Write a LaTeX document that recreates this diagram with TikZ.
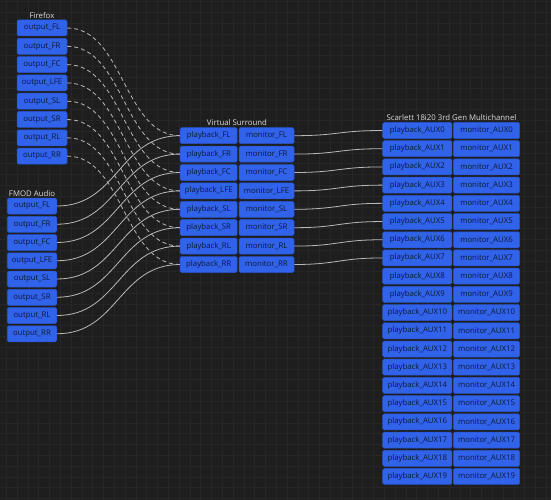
\documentclass[tikz,border=0pt]{standalone}
\usepackage{fontspec}
\setmainfont{Open Sans}
\definecolor{bgcol}{HTML}{1E1E1E}
\definecolor{gridcol}{HTML}{262626}
\definecolor{portfill}{HTML}{3063EA}
\definecolor{portedge}{HTML}{2853C8}
\definecolor{porttext}{HTML}{101838}
\definecolor{labeltext}{HTML}{DCDCDC}
\definecolor{wirecol}{HTML}{B8B8B8}
\begin{document}
\begin{tikzpicture}[x=1pt,y=-1pt,
  port/.style={draw=portedge, line width=0.5pt, fill=portfill, rounded corners=1.5pt,
    minimum height=16pt, inner sep=0pt, text=porttext, font=\fontsize{7.8}{8}\selectfont},
  grp/.style={text=labeltext, font=\fontsize{7.8}{8}\selectfont, anchor=south, inner sep=0pt},
  wire/.style={draw=wirecol, line width=0.8pt},
  dwire/.style={wire, dash pattern=on 4pt off 3pt}]
\useasboundingbox (0,0) rectangle (551,500);
\fill[bgcol] (0,0) rectangle (551,500);
\foreach \i in {0,...,51} {
  \draw[gridcol, line width=0.6pt] (6.3+10.8*\i,0) -- (6.3+10.8*\i,500);
}
\foreach \i in {0,...,46} {
  \draw[gridcol, line width=0.6pt] (0,1.7+10.8*\i) -- (551,1.7+10.8*\i);
}
% group labels
\node[grp] (lblff) at (42,18.5) {Firefox};
\node[grp] (lblfm) at (32,196.5) {FMOD Audio};
\node[grp] (lblvs) at (237,126) {Virtual Surround};
\node[grp] (lblsc) at (451.5,121) {Scarlett 18i20 3rd Gen Multichannel};
% ports
\foreach \ch [count=\i from 0] in {FL,FR,FC,LFE,SL,SR,RL,RR} {
  \node[port, minimum width=50pt] (ff\ch) at (42,28+18.3*\i) {output\_\ch};
  \node[port, minimum width=49.5pt] (fm\ch) at (32,206+18.25*\i) {output\_\ch};
  \node[port, minimum width=57pt] (vp\ch) at (208.7,135.7+18.4*\i) {playback\_\ch};
  \node[port, minimum width=55pt] (vm\ch) at (266.5,135.7+18.4*\i) {monitor\_\ch};
}
\foreach \i in {0,...,19} {
  \node[port, minimum width=69.3pt] (sp\i) at (417.3,130.5+18.21*\i) {playback\_AUX\i};
  \node[port, minimum width=66.4pt] (sm\i) at (486.5,130.5+18.21*\i) {monitor\_AUX\i};
}
% wires
\foreach \ch in {FL,FR,FC,LFE,SL,SR,RL,RR} {
  \draw[dwire] (ff\ch.east) .. controls +(56,0) and +(-56,0) .. (vp\ch.west);
  \draw[wire] (fm\ch.east) .. controls +(61,0) and +(-61,0) .. (vp\ch.west);
}
\foreach \ch [count=\i from 0] in {FL,FR,FC,LFE,SL,SR,RL,RR} {
  \draw[wire] (vm\ch.east) .. controls +(44,0) and +(-44,0) .. (sp\i.west);
}
\end{tikzpicture}
\end{document}
